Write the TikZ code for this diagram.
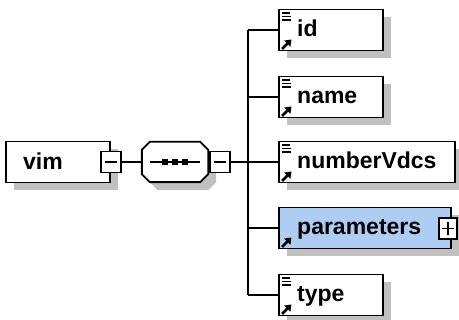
\documentclass[tikz,border=0pt]{standalone}
\usepackage{fontspec}
\setmainfont{Liberation Sans}
\usetikzlibrary{shadows,arrows.meta,calc}
\definecolor{shade}{RGB}{192,192,192}
\definecolor{complexfill}{RGB}{173,206,242}
\begin{document}
\begin{tikzpicture}[x=1pt,y=-1pt,
  edge/.style={line width=1.2pt},
  boxshadow/.style={drop shadow={shadow xshift=8pt, shadow yshift=-8pt, opacity=1, fill=shade}},
  elembox/.style={draw, line width=1.9pt, fill=white, minimum height=41pt,
    inner sep=0pt, anchor=west, boxshadow},
  togglebox/.style={draw, line width=1.6pt, fill=white, minimum width=20pt,
    minimum height=21pt, inner sep=0pt},
  minus/.style={path picture={\draw[line width=1.5pt]
    ([xshift=4pt]path picture bounding box.west) -- ([xshift=-4pt]path picture bounding box.east);}},
  plus/.style={path picture={\draw[line width=1.6pt]
    ([xshift=3pt]path picture bounding box.west) -- ([xshift=-3pt]path picture bounding box.east)
    ([yshift=-4pt]path picture bounding box.north) -- ([yshift=4pt]path picture bounding box.south);}},
  lbl/.style={anchor=base west, font=\fontsize{23}{25}\selectfont\bfseries, inner sep=0pt},
  textmark/.pic={\draw[line width=1.8pt] (4,4.5) -- (12,4.5) (4,8) -- (13,8) (4,11.5) -- (13,11.5);},
  refmark/.pic={\draw[line width=2.6pt, -{Triangle[length=6pt,width=8.5pt]}] (4,-2.5) -- (13.5,-12);},
]
\useasboundingbox (0,0) rectangle (459,320);

% root element
\node[elembox, minimum width=104pt] (vim) at (5,162) {};
\node[lbl] at ($(vim.west)+(18,8)$) {vim};
\node[togglebox, minus] (vimtoggle) at (vim.east) {};

% sequence compositor
\node[minimum width=66pt, minimum height=40pt, inner sep=0pt] (seq) at (175,162) {};
\draw[line width=1.9pt, fill=white, boxshadow]
  ($(seq.north west)+(8,0)$) -- ($(seq.north east)+(-8,0)$) -- ($(seq.north east)+(0,8)$)
  -- ($(seq.south east)+(0,-8)$) -- ($(seq.south east)+(-8,0)$) -- ($(seq.south west)+(8,0)$)
  -- ($(seq.south west)+(0,-8)$) -- ($(seq.north west)+(0,8)$) -- cycle;
\draw[edge] ($(seq.west)+(8,0)$) -- ($(seq.east)+(-8,0)$);
\foreach \dx in {-10,0,10}
  \fill ($(seq.center)+(\dx,0)+(-3,-3)$) rectangle ++(6,6);
\node[togglebox, minus] (seqtoggle) at ($(seq.east)+(11.5,0)$) {};

\coordinate (bus) at (248,162);

% child elements
\node[elembox, minimum width=104pt] (id) at (278,30) {};
\node[elembox, minimum width=104pt] (name) at (278,97) {};
\node[elembox, minimum width=176pt] (numberVdcs) at (278,162) {};
\node[elembox, minimum width=172pt, fill=complexfill] (parameters) at (278,228) {};
\node[elembox, minimum width=104pt] (type) at (278,295) {};
\node[togglebox, plus, minimum width=18pt] (paramtoggle) at (448,228.5) {};

\foreach \n in {id,name,numberVdcs,parameters,type}
  \node[lbl] at ($(\n.west)+(19,7)$) {\n};
\foreach \n in {id,name,numberVdcs,type}
  \pic at (\n.north west) {textmark};
\foreach \n in {id,name,numberVdcs,parameters,type}
  \pic at (\n.south west) {refmark};

% connectors
\draw[edge] (vimtoggle.east) -- (seq.west);
\draw[edge] (seqtoggle.east) -- (bus);
\draw[edge] (bus |- id.west) -- (bus |- type.west);
\foreach \n in {id,name,numberVdcs,parameters,type}
  \draw[edge] (bus |- \n.west) -- (\n.west);
\end{tikzpicture}
\end{document}
